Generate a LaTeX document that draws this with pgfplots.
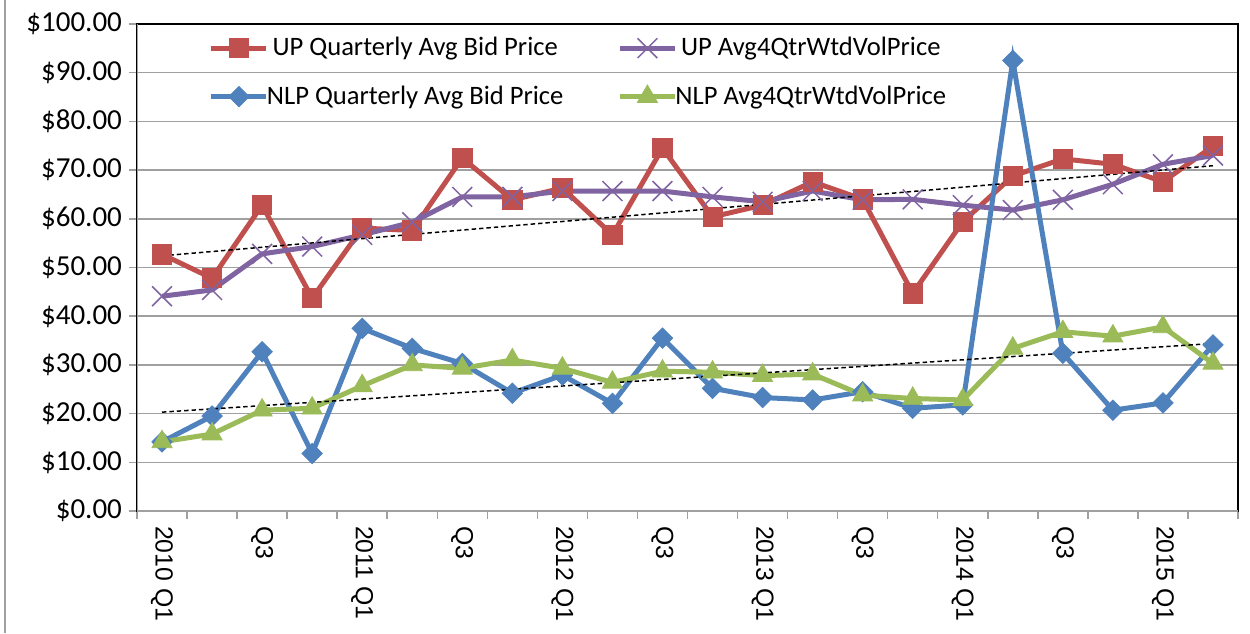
\documentclass[border=0pt]{standalone}
\usepackage{fontspec}
\setmainfont{Carlito}
\newfontfamily\arialfont{Liberation Sans}
\usepackage{pgfplots}
\pgfplotsset{compat=1.18}
\definecolor{upred}{HTML}{C0504D}
\definecolor{uppurple}{HTML}{8064A2}
\definecolor{nlpblue}{HTML}{4F81BD}
\definecolor{nlpgreen}{HTML}{9BBB59}
\definecolor{gridgray}{HTML}{A0A0A0}
\begin{document}
\begin{tikzpicture}
\begin{axis}[name=ax, scale only axis, width=550.5pt, height=243.5pt,
  xmin=-0.5, xmax=21.5, ymin=0, ymax=100,
  ytick={0,10,...,100},
  /pgf/number format/assume math mode=true,
  yticklabel={\$\pgfmathprintnumber[fixed,fixed zerofill,precision=2]{\tick}},
  yticklabel style={font=\fontsize{14.5}{16}\selectfont},
  xtick={0,2,...,20},
  xticklabels={2010 Q1,Q3,2011 Q1,Q3,2012 Q1,Q3,2013 Q1,Q3,2014 Q1,Q3,2015 Q1},
  xticklabel style={font=\arialfont\fontsize{12.4}{14}\selectfont, rotate=-90, anchor=west},
  major x tick style={draw=none},
  minor xtick={-0.5,0.5,...,21.5},
  tick align=outside, tick pos=left,
  major tick length=4pt, minor tick length=4pt,
  tick style={gridgray, line width=0.75pt},
  ymajorgrids, major grid style={gridgray, line width=0.75pt},
  axis line style={black, line width=0.75pt},
  legend columns=2,
  legend style={at={(0.0595,1)}, anchor=north west, yshift=-2.5pt, draw=none, fill=none,
    font=\fontsize{13.3}{15}\selectfont, row sep=9.5pt,
    nodes={inner xsep=1.5pt},
    /tikz/every even column/.append style={column sep=25.5pt}},
  legend image code/.code={\draw[mark repeat=2,mark phase=2] plot coordinates {(0pt,0pt) (13.75pt,0pt) (27.5pt,0pt)};},
]
\addplot[upred, line width=2.5pt, mark=square*, mark size=4.8pt, mark options={line width=0.4pt}] coordinates {
(0,52.7) (1,47.8) (2,62.8) (3,43.7) (4,58.1) (5,57.6) (6,72.5) (7,63.9) (8,66.3) (9,56.7) (10,74.5)
(11,60.4) (12,62.8) (13,67.6) (14,64.0) (15,44.7) (16,59.4) (17,68.8) (18,72.3) (19,71.2) (20,67.6) (21,74.9)};
\addlegendentry{\hspace*{-2.5pt}UP Quarterly Avg Bid Price}
\addplot[uppurple, line width=2.5pt, mark=x, mark size=7pt, mark options={line width=0.75pt}] coordinates {
(0,44.1) (1,45.4) (2,52.8) (3,54.3) (4,56.7) (5,59.3) (6,64.5) (7,64.5) (8,65.7) (9,65.7) (10,65.7)
(11,64.5) (12,63.5) (13,65.7) (14,63.9) (15,64.0) (16,62.8) (17,61.8) (18,63.9) (19,67.1) (20,71.2) (21,73.0)};
\addlegendentry{\hspace*{-2.5pt}UP Avg4QtrWtdVolPrice}
\addplot[nlpblue, line width=2.5pt, mark=square*, mark size=3.6pt, mark options={rotate=45, line width=0.4pt}] coordinates {
(0,14.2) (1,19.5) (2,32.7) (3,11.8) (4,37.5) (5,33.4) (6,30.3) (7,24.2) (8,27.9) (9,22.1) (10,35.5)
(11,25.2) (12,23.3) (13,22.8) (14,24.5) (15,21.1) (16,21.8) (17,92.5) (18,32.4) (19,20.7) (20,22.2) (21,34.1)};
\addlegendentry{\hspace*{-2.5pt}NLP Quarterly Avg Bid Price}
\addplot[nlpgreen, line width=2.5pt, mark=triangle*, mark size=5.8pt, mark options={line width=0.4pt}] coordinates {
(0,14.2) (1,15.8) (2,20.7) (3,21.1) (4,25.7) (5,30.0) (6,29.3) (7,31.0) (8,29.3) (9,26.4) (10,28.7)
(11,28.5) (12,27.8) (13,28.1) (14,23.8) (15,23.1) (16,22.8) (17,33.4) (18,36.8) (19,35.9) (20,37.8) (21,30.3)};
\addlegendentry{\hspace*{-2.5pt}NLP Avg4QtrWtdVolPrice}
\addplot[forget plot, black, line width=0.75pt, dash pattern=on 2.2pt off 1.5pt] coordinates {(0,52.4) (21,70.9)};
\addplot[forget plot, black, line width=0.75pt, dash pattern=on 2.2pt off 1.5pt] coordinates {(0,20.3) (21,34.4)};
\draw[gridgray, line width=0.75pt] (rel axis cs:0,1) -- (rel axis cs:0,0) -- (rel axis cs:1,0);
\end{axis}
\pgfresetboundingbox
\useasboundingbox ([xshift=-68.5pt,yshift=-61pt]ax.south west) rectangle ([xshift=6pt,yshift=12pt]ax.north east);
\draw[gridgray, line width=1pt] ([xshift=-66pt,yshift=-61pt]ax.south west) -- ([xshift=-66pt,yshift=12pt]ax.north west);
\end{tikzpicture}
\end{document}
